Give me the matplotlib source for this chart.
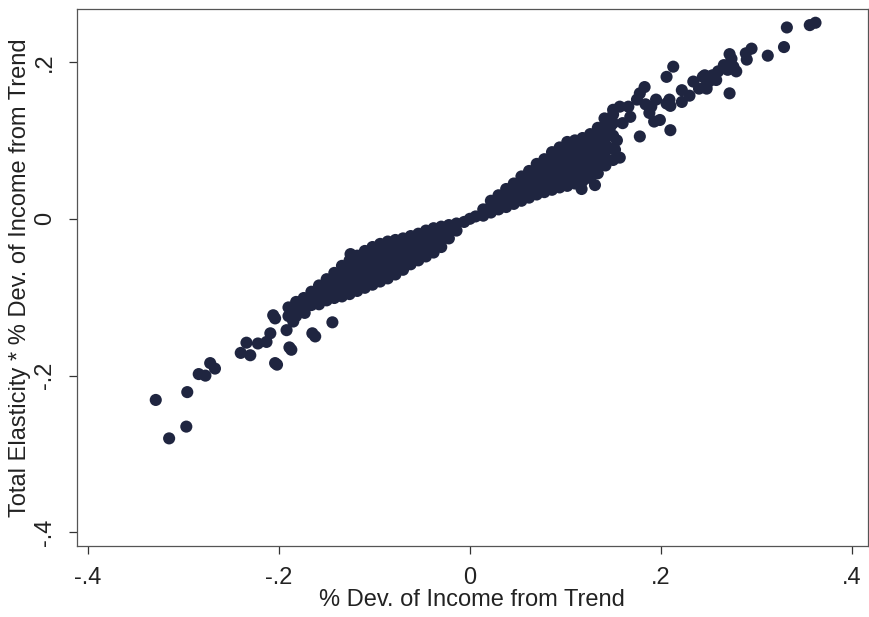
import matplotlib
matplotlib.use("Agg")
import matplotlib.pyplot as plt

plt.rcParams['font.family'] = ['Liberation Sans', 'DejaVu Sans']

# Outlying points, negative side
neg_x = [-0.329, -0.315, -0.296, -0.297, -0.272, -0.267, -0.284, -0.277, -0.240, -0.230,
         -0.202, -0.187, -0.234, -0.222, -0.213, -0.209, -0.204, -0.192, -0.185, -0.183,
         -0.176, -0.173, -0.162, -0.144, -0.125, -0.206, -0.204, -0.189, -0.165]
neg_y = [-0.231, -0.280, -0.221, -0.265, -0.184, -0.191, -0.198, -0.200, -0.171, -0.174,
         -0.186, -0.167, -0.158, -0.159, -0.157, -0.146, -0.127, -0.142, -0.131, -0.112,
         -0.106, -0.120, -0.150, -0.132, -0.045, -0.123, -0.184, -0.164, -0.146]

# Dense band, negative side
band_neg_x = [
    -0.190, -0.190,
    -0.182, -0.182, -0.182,
    -0.174, -0.174, -0.174,
    -0.166, -0.166, -0.166,
    -0.158, -0.158, -0.158, -0.158,
    -0.150, -0.150, -0.150, -0.150,
    -0.142, -0.142, -0.142, -0.142, -0.142,
    -0.134, -0.134, -0.134, -0.134, -0.134, -0.134,
    -0.126, -0.126, -0.126, -0.126, -0.126, -0.126,
    -0.118, -0.118, -0.118, -0.118, -0.118, -0.118,
    -0.110, -0.110, -0.110, -0.110, -0.110, -0.110, -0.110,
    -0.102, -0.102, -0.102, -0.102, -0.102, -0.102, -0.102,
    -0.094, -0.094, -0.094, -0.094, -0.094, -0.094, -0.094,
    -0.086, -0.086, -0.086, -0.086, -0.086, -0.086, -0.086,
    -0.078, -0.078, -0.078, -0.078, -0.078, -0.078,
    -0.070, -0.070, -0.070, -0.070, -0.070, -0.070,
    -0.062, -0.062, -0.062, -0.062, -0.062,
    -0.054, -0.054, -0.054, -0.054, -0.054,
    -0.046, -0.046, -0.046, -0.046, -0.046,
    -0.038, -0.038, -0.038, -0.038, -0.038,
    -0.030, -0.030, -0.030, -0.030,
    -0.022, -0.022, -0.022,
    -0.014, -0.014,
    -0.006, 0.000]
band_neg_y = [
    -0.113, -0.124,
    -0.106, -0.116, -0.124,
    -0.101, -0.111, -0.118,
    -0.093, -0.102, -0.110,
    -0.085, -0.094, -0.103, -0.109,
    -0.077, -0.086, -0.095, -0.104,
    -0.069, -0.078, -0.087, -0.096, -0.101,
    -0.060, -0.069, -0.078, -0.087, -0.096, -0.099,
    -0.053, -0.062, -0.071, -0.080, -0.089, -0.096,
    -0.047, -0.056, -0.065, -0.074, -0.083, -0.092,
    -0.041, -0.050, -0.059, -0.068, -0.077, -0.086, -0.088,
    -0.036, -0.045, -0.054, -0.063, -0.072, -0.081, -0.084,
    -0.032, -0.041, -0.050, -0.059, -0.068, -0.077, -0.080,
    -0.029, -0.038, -0.047, -0.056, -0.065, -0.074, -0.076,
    -0.027, -0.036, -0.045, -0.054, -0.063, -0.071,
    -0.025, -0.034, -0.043, -0.052, -0.061, -0.065,
    -0.022, -0.031, -0.040, -0.049, -0.058,
    -0.019, -0.028, -0.037, -0.046, -0.053,
    -0.015, -0.024, -0.033, -0.042, -0.048,
    -0.012, -0.021, -0.030, -0.039, -0.043,
    -0.010, -0.019, -0.028, -0.036,
    -0.008, -0.017, -0.025,
    -0.006, -0.015,
    -0.004, 0.000]

# Dense band, positive side
band_pos_x = [
    0.006,
    0.014, 0.014,
    0.022, 0.022, 0.022,
    0.030, 0.030, 0.030,
    0.038, 0.038, 0.038, 0.038,
    0.046, 0.046, 0.046, 0.046,
    0.054, 0.054, 0.054, 0.054, 0.054,
    0.062, 0.062, 0.062, 0.062, 0.062,
    0.070, 0.070, 0.070, 0.070, 0.070, 0.070,
    0.078, 0.078, 0.078, 0.078, 0.078, 0.078,
    0.086, 0.086, 0.086, 0.086, 0.086, 0.086, 0.086,
    0.094, 0.094, 0.094, 0.094, 0.094, 0.094, 0.094,
    0.102, 0.102, 0.102, 0.102, 0.102, 0.102, 0.102, 0.102,
    0.110, 0.110, 0.110, 0.110, 0.110, 0.110, 0.110, 0.110,
    0.118, 0.118, 0.118, 0.118, 0.118, 0.118, 0.118, 0.118,
    0.126, 0.126, 0.126, 0.126, 0.126, 0.126, 0.126, 0.126,
    0.134, 0.134, 0.134, 0.134, 0.134, 0.134, 0.134, 0.134,
    0.142, 0.142, 0.142, 0.142, 0.142, 0.142, 0.142,
    0.150, 0.150, 0.150, 0.150, 0.150]
band_pos_y = [
    0.003,
    0.004, 0.012,
    0.008, 0.016, 0.023,
    0.012, 0.021, 0.030,
    0.015, 0.023, 0.031, 0.038,
    0.019, 0.027, 0.036, 0.045,
    0.023, 0.031, 0.039, 0.047, 0.054,
    0.027, 0.035, 0.043, 0.052, 0.061,
    0.031, 0.039, 0.047, 0.055, 0.063, 0.070,
    0.034, 0.042, 0.050, 0.058, 0.067, 0.076,
    0.037, 0.045, 0.053, 0.061, 0.069, 0.077, 0.085,
    0.040, 0.048, 0.056, 0.064, 0.073, 0.082, 0.091,
    0.042, 0.050, 0.058, 0.066, 0.074, 0.082, 0.090, 0.098,
    0.045, 0.053, 0.061, 0.069, 0.077, 0.085, 0.093, 0.100,
    0.048, 0.056, 0.064, 0.072, 0.080, 0.088, 0.096, 0.103,
    0.052, 0.060, 0.068, 0.076, 0.084, 0.092, 0.100, 0.108,
    0.058, 0.066, 0.074, 0.082, 0.090, 0.098, 0.107, 0.116,
    0.068, 0.077, 0.086, 0.095, 0.104, 0.113, 0.121,
    0.075, 0.090, 0.106, 0.122, 0.133]

# Outlying points, positive side
pos_x = [0.362, 0.356, 0.332, 0.329, 0.312, 0.295, 0.289, 0.290, 0.274, 0.272,
         0.266, 0.276, 0.279, 0.270, 0.260, 0.272, 0.254, 0.246, 0.253, 0.258,
         0.248, 0.248, 0.240, 0.244, 0.234, 0.230, 0.222, 0.222, 0.210, 0.213,
         0.206, 0.209, 0.195, 0.190, 0.206, 0.210, 0.199, 0.193, 0.188, 0.184,
         0.183, 0.178, 0.175, 0.168, 0.166, 0.160, 0.178, 0.157, 0.150, 0.147,
         0.154, 0.149, 0.141, 0.131, 0.117, 0.157, 0.152]
pos_y = [0.250, 0.247, 0.244, 0.219, 0.208, 0.217, 0.211, 0.203, 0.204, 0.210,
         0.196, 0.194, 0.188, 0.190, 0.188, 0.160, 0.183, 0.183, 0.177, 0.177,
         0.171, 0.166, 0.166, 0.181, 0.175, 0.157, 0.164, 0.149, 0.144, 0.194,
         0.181, 0.152, 0.152, 0.143, 0.147, 0.113, 0.126, 0.124, 0.135, 0.146,
         0.168, 0.160, 0.152, 0.130, 0.143, 0.122, 0.105, 0.143, 0.139, 0.117,
         0.100, 0.123, 0.128, 0.043, 0.038, 0.078, 0.088]

x_ticks = [-0.4, -0.2, 0.0, 0.2, 0.4]
x_tick_labels = ['-.4', '-.2', '0', '.2', '.4']
y_ticks = [-0.4, -0.2, 0.0, 0.2]
y_tick_labels = ['-.4', '-.2', '0', '.2']

all_x = neg_x + band_neg_x + band_pos_x + pos_x
all_y = neg_y + band_neg_y + band_pos_y + pos_y

fig = plt.figure(figsize=(8.7, 6.17), dpi=100)
ax = fig.add_axes([0.0885, 0.115, 0.909, 0.871])
dot = '#1f2540'
ax.scatter(all_x, all_y, s=76, color=dot, edgecolors='none', zorder=3)

ax.set_xlim(-0.4115, 0.4168)
ax.set_ylim(-0.4173, 0.268)
ax.set_xticks(x_ticks)
ax.set_xticklabels(x_tick_labels)
ax.set_yticks(y_ticks)
ax.set_yticklabels(y_tick_labels, rotation=90, va='center')
ax.tick_params(direction='out', length=6, width=0.9, colors='#333333',
               labelsize=17, labelcolor='#222222', pad=9)
for s in ax.spines.values():
    s.set_color('#555555')
    s.set_linewidth(0.9)
ax.set_xlabel('% Dev. of Income from Trend', fontsize=17, color='#222222', labelpad=0)
ax.set_ylabel('Total Elasticity * % Dev. of Income from Trend', fontsize=17,
              color='#222222', labelpad=2)

fig.savefig('out.png', dpi=100)
